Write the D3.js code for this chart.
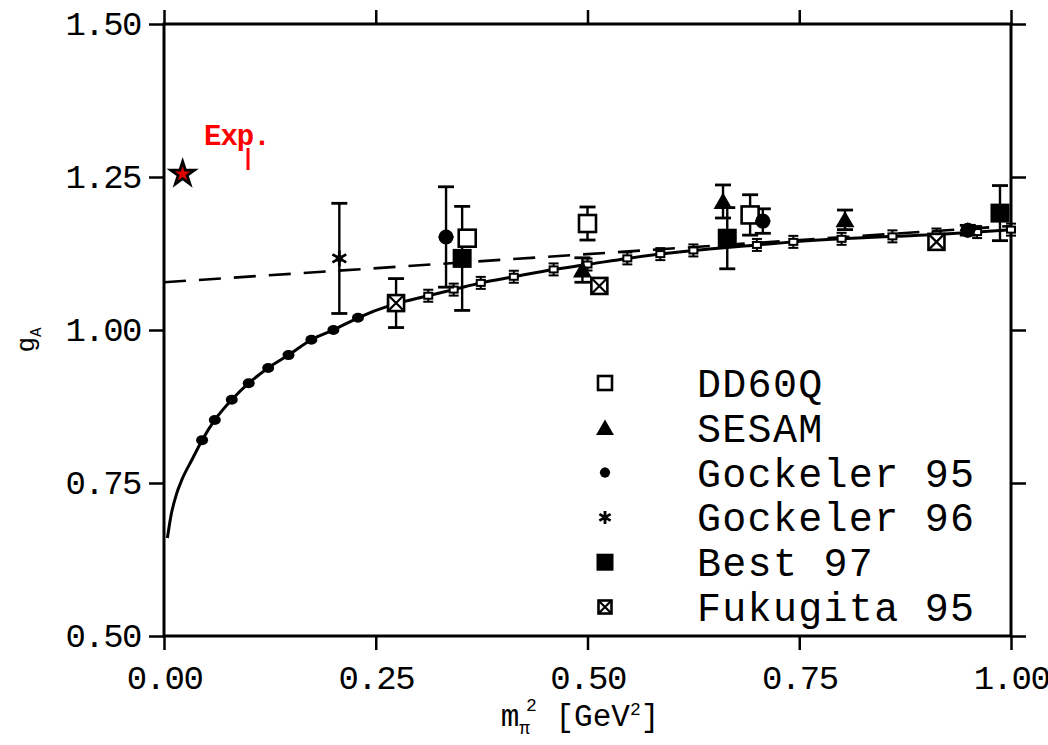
<!DOCTYPE html>
<html>
<head>
<meta charset="utf-8">
<script src="https://cdn.jsdelivr.net/npm/d3@7"></script>
<style>
  html, body { margin: 0; padding: 0; background: #fff; }
  svg { display: block; }
</style>
</head>
<body>
<svg id="chart" width="1048" height="745"></svg>
<script>
// ---- data ----------------------------------------------------------------
const xTicks = [0, 0.25, 0.5, 0.75, 1.0];
const xTickLabels = ["0.00", "0.25", "0.50", "0.75", "1.00"];
const yTicks = [0.5, 0.75, 1.0, 1.25, 1.5];
const yTickLabels = ["0.50", "0.75", "1.00", "1.25", "1.50"];

const seriesNames = ["DD60Q", "SESAM", "Gockeler 95", "Gockeler 96", "Best 97", "Fukugita 95"];

// lattice results: m_pi^2 [GeV^2], g_A, error
const dd60q = [
  { m2: 0.500, g: 1.174, err: 0.027 },
  { m2: 0.358, g: 1.150, err: 0.0 },
  { m2: 0.692, g: 1.188, err: 0.033 }
];
const sesam = [
  { m2: 0.494, g: 1.098, err: 0.020 },
  { m2: 0.660, g: 1.210, err: 0.027 },
  { m2: 0.804, g: 1.180, err: 0.016 }
];
const gockeler95 = [
  { m2: 0.333, g: 1.152, err: 0.082 },
  { m2: 0.707, g: 1.178, err: 0.020 },
  { m2: 0.949, g: 1.163, err: 0.008 }
];
const gockeler96 = [
  { m2: 0.207, g: 1.117, err: 0.090 }
];
const best97 = [
  { m2: 0.352, g: 1.117, err: 0.085 },
  { m2: 0.665, g: 1.150, err: 0.050 },
  { m2: 0.987, g: 1.191, err: 0.045 }
];
const fukugita95 = [
  { m2: 0.274, g: 1.044, err: 0.040 },
  { m2: 0.514, g: 1.072, err: 0.008 },
  { m2: 0.912, g: 1.144, err: 0.006 }
];

// experimental value
const expPoint = { m2: 0.022, g: 1.255 };

// chiral fit curve
const fitM2 = [0.004, 0.008, 0.015, 0.021, 0.033, 0.045, 0.060, 0.080, 0.100, 0.123,
               0.147, 0.174, 0.200, 0.229, 0.269, 0.312, 0.342, 0.374, 0.413, 0.460,
               0.500, 0.547, 0.586, 0.625, 0.700, 0.743, 0.800, 0.860, 0.912, 0.960, 1.000];
const fitG  = [0.660, 0.695, 0.733, 0.755, 0.788, 0.820, 0.853, 0.886, 0.913, 0.938,
               0.959, 0.984, 1.000, 1.020, 1.041, 1.056, 1.066, 1.077, 1.087, 1.099,
               1.107, 1.117, 1.124, 1.130, 1.139, 1.144, 1.149, 1.153, 1.156, 1.160, 1.164];

// linear fit (dashed)
const linM2 = [0.0, 1.0];
const linG  = [1.078, 1.170];

// ---- layout --------------------------------------------------------------
const svg = d3.select("#chart");
const x = d3.scaleLinear().domain([0, 1]).range([164, 1011]);
const y = d3.scaleLinear().domain([0.5, 1.5]).range([636, 24]);

const monoFont = "'Liberation Mono', 'DejaVu Sans Mono', monospace";

// frame
svg.append("rect")
  .attr("x", x(0)).attr("y", y(1.5))
  .attr("width", x(1) - x(0)).attr("height", y(0.5) - y(1.5))
  .attr("fill", "none").attr("stroke", "#000").attr("stroke-width", 3);

function styleAxis(g) {
  g.select(".domain").remove();
  g.selectAll(".tick line").attr("stroke", "#000").attr("stroke-width", 2.5);
  g.selectAll(".tick text")
    .attr("font-family", monoFont)
    .attr("font-size", 34)
    .attr("letter-spacing", -1.5)
    .attr("fill", "#000");
}

svg.append("g").attr("transform", `translate(0,${y(0.5)})`)
  .call(d3.axisBottom(x).tickValues(xTicks).tickFormat((d, i) => xTickLabels[i])
        .tickSizeInner(14).tickSizeOuter(0).tickPadding(15))
  .call(styleAxis);

svg.append("g").attr("transform", `translate(0,${y(1.5)})`)
  .call(d3.axisTop(x).tickValues(xTicks).tickFormat("")
        .tickSizeInner(14).tickSizeOuter(0))
  .call(styleAxis);

svg.append("g").attr("transform", `translate(${x(0)},0)`)
  .call(d3.axisLeft(y).tickValues(yTicks).tickFormat((d, i) => yTickLabels[i])
        .tickSizeInner(15).tickSizeOuter(0).tickPadding(8))
  .call(styleAxis);

svg.append("g").attr("transform", `translate(${x(1)},0)`)
  .call(d3.axisRight(y).tickValues(yTicks).tickFormat("")
        .tickSizeInner(15).tickSizeOuter(0))
  .call(styleAxis);

// axis titles
const xt = svg.append("text")
  .attr("x", 580).attr("y", 726)
  .attr("text-anchor", "middle")
  .attr("font-family", monoFont).attr("font-size", 31).attr("fill", "#000");
xt.append("tspan").text("m");
xt.append("tspan").attr("font-size", 18).attr("dy", 8).text("\u03c0");
xt.append("tspan").attr("font-size", 18).attr("dy", -23).attr("dx", -4).text("2");
xt.append("tspan").attr("dy", 15).text(" [GeV");
xt.append("tspan").attr("font-size", 18).attr("dy", -11).text("2");
xt.append("tspan").attr("dy", 11).text("]");

const yt = svg.append("text")
  .attr("transform", "translate(34,340) rotate(-90)")
  .attr("text-anchor", "middle")
  .attr("font-family", monoFont).attr("font-size", 26).attr("fill", "#000");
yt.append("tspan").text("g");
yt.append("tspan").attr("font-size", 16).attr("dy", 7).text("A");

// ---- fits ----------------------------------------------------------------
const fitPts = fitM2.map((m, i) => [m, fitG[i]]);
const linPts = linM2.map((m, i) => [m, linG[i]]);

svg.append("path")
  .datum(linPts)
  .attr("d", d3.line().x(d => x(d[0])).y(d => y(d[1])))
  .attr("fill", "none").attr("stroke", "#000")
  .attr("stroke-width", 2.6).attr("stroke-dasharray", "22,13");

svg.append("path")
  .datum(fitPts)
  .attr("d", d3.line().curve(d3.curveMonotoneX).x(d => x(d[0])).y(d => y(d[1])))
  .attr("fill", "none").attr("stroke", "#000").attr("stroke-width", 3);

// sample points along the fit
const fitMarks = svg.append("g");
fitPts.filter(d => d[0] >= 0.04 && d[0] < 0.25).forEach(d => {
  fitMarks.append("ellipse")
    .attr("cx", x(d[0])).attr("cy", y(d[1]))
    .attr("rx", 6).attr("ry", 5).attr("fill", "#000");
});
fitPts.filter(d => d[0] >= 0.25).forEach(d => {
  const cx = x(d[0]), cy = y(d[1]);
  fitMarks.append("line").attr("x1", cx).attr("x2", cx)
    .attr("y1", cy - 6).attr("y2", cy + 6).attr("stroke", "#000").attr("stroke-width", 2);
  fitMarks.append("line").attr("x1", cx - 5).attr("x2", cx + 5)
    .attr("y1", cy - 6).attr("y2", cy - 6).attr("stroke", "#000").attr("stroke-width", 2);
  fitMarks.append("line").attr("x1", cx - 5).attr("x2", cx + 5)
    .attr("y1", cy + 6).attr("y2", cy + 6).attr("stroke", "#000").attr("stroke-width", 2);
  fitMarks.append("rect").attr("x", cx - 4).attr("y", cy - 3)
    .attr("width", 8).attr("height", 6)
    .attr("fill", "#fff").attr("stroke", "#000").attr("stroke-width", 2);
});

// ---- markers -------------------------------------------------------------
function drawMarker(g, type, cx, cy, s) {
  if (type === "DD60Q") {
    g.append("rect").attr("x", cx - s / 2).attr("y", cy - s / 2)
      .attr("width", s).attr("height", s)
      .attr("fill", "#fff").attr("stroke", "#000").attr("stroke-width", 2.6);
  } else if (type === "SESAM") {
    g.append("path").attr("transform", `translate(${cx},${cy + 2})`)
      .attr("d", d3.symbol(d3.symbolTriangle, s * s * 0.48)())
      .attr("fill", "#000");
  } else if (type === "Gockeler 95") {
    g.append("path").attr("transform", `translate(${cx},${cy})`)
      .attr("d", d3.symbol(d3.symbolCircle, s * s * 0.55)())
      .attr("fill", "#000");
    g.append("path").attr("transform", `translate(${cx},${cy}) rotate(45)`)
      .attr("d", d3.symbol(d3.symbolSquare, s * s * 0.4)())
      .attr("fill", "#000");
  } else if (type === "Gockeler 96") {
    g.append("path").attr("transform", `translate(${cx},${cy})`)
      .attr("d", d3.symbol(d3.symbolAsterisk, s * s * 0.7)())
      .attr("fill", "none").attr("stroke", "#000").attr("stroke-width", 2.8);
    g.append("circle").attr("cx", cx).attr("cy", cy).attr("r", s * 0.22).attr("fill", "#000");
  } else if (type === "Best 97") {
    g.append("rect").attr("x", cx - s / 2).attr("y", cy - s / 2)
      .attr("width", s).attr("height", s).attr("fill", "#000");
  } else if (type === "Fukugita 95") {
    g.append("rect").attr("x", cx - s / 2).attr("y", cy - s / 2)
      .attr("width", s).attr("height", s)
      .attr("fill", "#fff").attr("stroke", "#000").attr("stroke-width", 2.6);
    g.append("path")
      .attr("d", `M${cx - s / 2},${cy - s / 2}L${cx + s / 2},${cy + s / 2}M${cx + s / 2},${cy - s / 2}L${cx - s / 2},${cy + s / 2}`)
      .attr("stroke", "#000").attr("stroke-width", 2.2);
  }
}

const seriesData = [
  { name: "DD60Q", data: dd60q, size: 17 },
  { name: "SESAM", data: sesam, size: 18 },
  { name: "Gockeler 95", data: gockeler95, size: 18 },
  { name: "Gockeler 96", data: gockeler96, size: 16 },
  { name: "Best 97", data: best97, size: 19 },
  { name: "Fukugita 95", data: fukugita95, size: 16 }
];

const pts = svg.append("g");
// error bars first
seriesData.forEach(s => {
  s.data.filter(d => d.err > 0).forEach(d => {
    const cx = x(d.m2), y1 = y(d.g + d.err), y2 = y(d.g - d.err);
    pts.append("line").attr("x1", cx).attr("x2", cx).attr("y1", y1).attr("y2", y2)
      .attr("stroke", "#000").attr("stroke-width", 2.4);
    [y1, y2].forEach(yy => pts.append("line")
      .attr("x1", cx - 8).attr("x2", cx + 8).attr("y1", yy).attr("y2", yy)
      .attr("stroke", "#000").attr("stroke-width", 2.8));
  });
});
seriesData.forEach(s => {
  s.data.forEach(d => drawMarker(pts, s.name, x(d.m2), y(d.g), s.size));
});

// experimental point
svg.append("path")
  .attr("transform", `translate(${x(expPoint.m2)},${y(expPoint.g)})`)
  .attr("d", d3.symbol(d3.symbolStar, 175)())
  .attr("fill", "#e00000").attr("stroke", "#000").attr("stroke-width", 2.8)
  .attr("stroke-linejoin", "miter");

svg.append("text")
  .attr("x", 204).attr("y", 145)
  .attr("font-family", monoFont)
  .attr("font-weight", "bold").attr("font-size", 29)
  .attr("letter-spacing", -1)
  .attr("fill", "#ff0000").text("Exp.");
svg.append("line")
  .attr("x1", 248).attr("x2", 248).attr("y1", 148).attr("y2", 170)
  .attr("stroke", "#ff0000").attr("stroke-width", 3);

// ---- legend --------------------------------------------------------------
const legend = svg.append("g");
const legendY = d3.scalePoint().domain(seriesNames).range([383, 607]);
const legendSize = { "DD60Q": 14, "SESAM": 17, "Gockeler 95": 12, "Gockeler 96": 13, "Best 97": 17, "Fukugita 95": 13 };
seriesNames.forEach(name => {
  const cy = legendY(name);
  drawMarker(legend, name, 605, cy, legendSize[name]);
  legend.append("text")
    .attr("x", 697).attr("y", cy + 14)
    .attr("font-family", monoFont).attr("font-size", 40)
    .attr("letter-spacing", 1.3)
    .attr("fill", "#000").text(name);
});
</script>
</body>
</html>
